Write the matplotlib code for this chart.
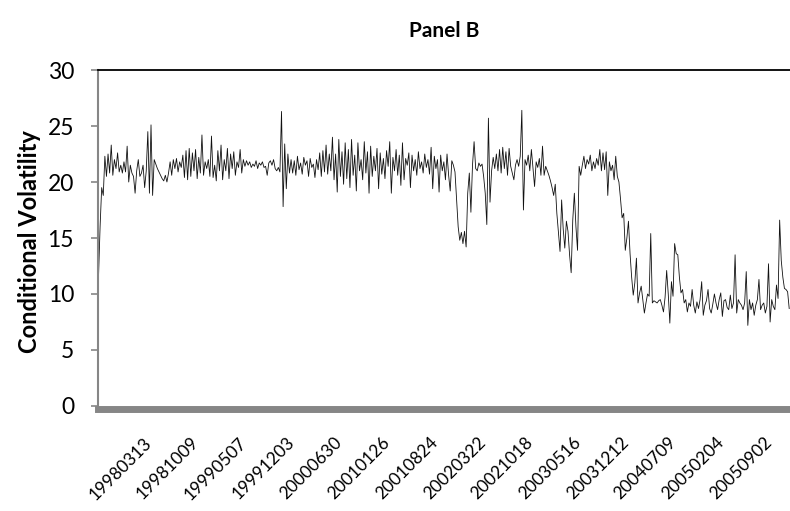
import matplotlib
matplotlib.use("Agg")
import matplotlib.pyplot as plt
import matplotlib.transforms as mtransforms
import pandas as pd

# weekly conditional volatility
vol = [
    11.5, 16.0, 19.5, 18.8, 22.3, 20.5, 22.5, 20.8, 23.3, 20.6,
    22.0, 21.2, 22.6, 20.9, 21.5, 20.8, 21.8, 20.9, 23.2, 20.0,
    21.5, 20.8, 20.5, 19.0, 21.0, 22.0, 20.5, 20.8, 21.5, 19.5,
    21.0, 24.5, 19.0, 25.1, 18.8, 22.0, 21.6, 21.2, 20.9, 20.6,
    20.3, 20.1, 20.6, 20.0, 20.8, 21.8, 20.6, 22.0, 21.2, 22.1,
    20.9, 21.8, 21.3, 22.4, 20.4, 22.8, 20.2, 23.0, 20.5, 22.6,
    21.0, 22.9, 20.3, 22.2, 20.8, 24.2, 20.6, 21.8, 21.2, 22.0,
    20.5, 24.1, 20.4, 21.5, 20.1, 22.8, 21.0, 23.3, 20.2, 22.0,
    21.0, 23.0, 20.3, 22.5, 21.2, 22.7, 20.6, 21.8, 21.3, 22.9,
    20.8, 22.0, 21.4, 21.9, 21.5, 21.8, 21.3, 21.6, 21.4, 21.9,
    21.2, 21.7, 21.5, 21.8, 21.3, 21.4, 20.6, 21.7, 21.9, 21.5,
    22.0, 21.2, 21.0, 21.3, 20.9, 26.3, 17.8, 23.4, 19.4, 22.5,
    20.8, 22.0, 20.8, 21.9, 20.6, 22.3, 21.1, 21.7, 20.7, 22.2,
    21.5, 21.9, 20.5, 22.1, 21.3, 21.6, 20.4, 22.0, 21.1, 22.6,
    20.5, 22.8, 20.9, 23.3, 20.7, 22.5, 21.0, 24.0, 20.2, 22.5,
    19.1, 23.8, 20.5, 22.7, 19.8, 23.5, 20.3, 22.9, 19.5, 23.8,
    20.6, 22.4, 19.2, 23.5, 21.0, 22.0, 20.2, 23.6, 20.8, 22.7,
    19.0, 23.2, 20.5, 22.3, 21.0, 23.0, 19.4, 22.6, 20.7, 22.1,
    20.3, 22.8, 21.4, 23.6, 19.0, 22.2, 21.0, 22.9, 20.6, 22.4,
    19.7, 23.5, 20.2, 22.1, 21.5, 22.6, 19.5, 22.4, 21.0, 22.0,
    20.6, 22.7, 21.2, 21.8, 20.8, 22.5, 21.3, 22.0, 20.7, 23.1,
    19.4, 22.3, 21.2, 22.0, 19.1, 22.4, 21.0, 21.8, 20.2, 22.5,
    20.6, 19.2, 21.9, 21.5, 20.9, 18.5, 16.0, 14.8, 15.5, 14.5,
    15.6, 14.2, 19.0, 20.8, 17.3, 21.5, 23.6, 21.2, 21.0, 21.7,
    21.4, 21.6, 20.5, 19.0, 16.2, 25.7, 18.2, 21.0, 22.2, 21.2,
    22.5, 21.0, 22.9, 20.8, 23.1, 21.2, 22.7, 20.6, 23.0, 21.4,
    20.8, 20.2, 21.5, 22.0, 21.4, 22.3, 26.4, 17.5, 22.0, 21.5,
    22.4, 21.0, 22.9, 21.2, 19.6, 21.8, 21.3, 22.1, 20.6, 23.2,
    20.6, 21.4, 21.0, 20.6, 20.1, 19.5, 18.8, 19.8, 17.2, 15.5,
    13.8, 18.4, 15.8, 14.1, 16.5, 15.6, 13.5, 11.9, 16.6, 19.0,
    16.0, 13.9, 21.4, 20.6, 21.5, 22.3, 21.2, 22.0, 21.6, 22.4,
    21.0, 21.8, 21.2, 22.1, 21.5, 22.9, 21.0, 22.6, 21.1, 22.7,
    18.8, 21.8, 21.0, 21.5, 20.2, 22.3, 20.5, 20.0, 18.5, 16.8,
    17.2, 13.9, 15.0, 16.5, 13.6, 11.5, 9.9, 11.0, 13.2, 9.2,
    10.1, 10.7, 9.5, 8.3, 9.2, 10.0, 9.8, 15.4, 9.2, 9.4,
    9.3, 9.2, 9.4, 9.5, 9.0, 8.4, 9.7, 12.1, 10.0, 7.4,
    11.1, 9.8, 14.5, 13.6, 13.5, 11.5, 10.1, 10.4, 9.2, 9.5,
    8.4, 9.2, 8.9, 10.4, 9.0, 8.3, 9.3, 8.7, 9.5, 11.1,
    8.1, 9.0, 9.4, 10.4, 8.7, 8.3, 9.1, 10.0, 9.2, 8.6,
    9.5, 10.1, 8.0, 9.4, 9.5, 8.8, 8.6, 9.9, 8.7, 9.2,
    13.5, 8.3, 9.5, 9.2, 9.0, 8.6, 9.2, 12.0, 7.2, 9.5,
    8.6, 9.2, 8.1, 9.0, 9.5, 11.3, 8.6, 9.0, 9.2, 8.3,
    8.9, 12.7, 7.5, 9.5, 8.9, 8.6, 10.8, 9.6, 16.6, 13.0,
    11.5, 10.5, 10.4, 10.2, 8.7,
]

start_date = "1997-08-22"
tick_labels = ["19980313", "19981009", "19990507", "19991203", "20000630",
               "20010126", "20010824", "20020322", "20021018", "20030516",
               "20031212", "20040709", "20050204", "20050902"]
y_ticks = [0, 5, 10, 15, 20, 25, 30]

dates = pd.date_range(start=start_date, periods=len(vol), freq="7D")
date_str = list(dates.strftime("%Y%m%d"))
tick_pos = [date_str.index(t) for t in tick_labels]

plt.rcParams["font.family"] = ["Lato", "DejaVu Sans"]

fig = plt.figure(figsize=(7.9, 5.11), dpi=100)
ax = fig.add_axes([97.7 / 790, 1 - 406 / 511, 1 - 97.7 / 790, (406 - 70) / 511])

# spines first: set_position resets the ticks
ax.spines["right"].set_visible(False)
ax.spines["top"].set_color("black")
ax.spines["top"].set_linewidth(1.3)
ax.spines["left"].set_color("#868686")
ax.spines["left"].set_linewidth(1.5)
ax.spines["bottom"].set_color("#868686")
ax.spines["bottom"].set_linewidth(5.0)
ax.spines["bottom"].set_position(("outward", 2.5))

ax.plot(range(len(vol)), vol, color="#111111", lw=0.6)

ax.set_xlim(-0.5, len(vol) - 0.5)
ax.set_ylim(0, 30)
ax.set_yticks(y_ticks)
ax.tick_params(axis="x", length=0, pad=22, labelsize=12.5)
ax.tick_params(axis="y", length=5, width=1.2, color="#868686", labelsize=16.5, pad=12)
ax.set_xticks(tick_pos, tick_labels, rotation=45, ha="right", va="center",
              rotation_mode="anchor")
# nudge the date labels a few pixels to the right, as in the original
nudge = mtransforms.ScaledTranslation(4 / 100, 0, fig.dpi_scale_trans)
for lab in ax.get_xticklabels():
    lab.set_transform(lab.get_transform() + nudge)

ax.set_ylabel("Conditional Volatility", fontsize=17, fontweight="bold")
ax.yaxis.set_label_coords(-0.082, 0.49)
ax.set_title("Panel B", fontsize=15, fontweight="bold", pad=24)

fig.savefig("out.png", dpi=100)
